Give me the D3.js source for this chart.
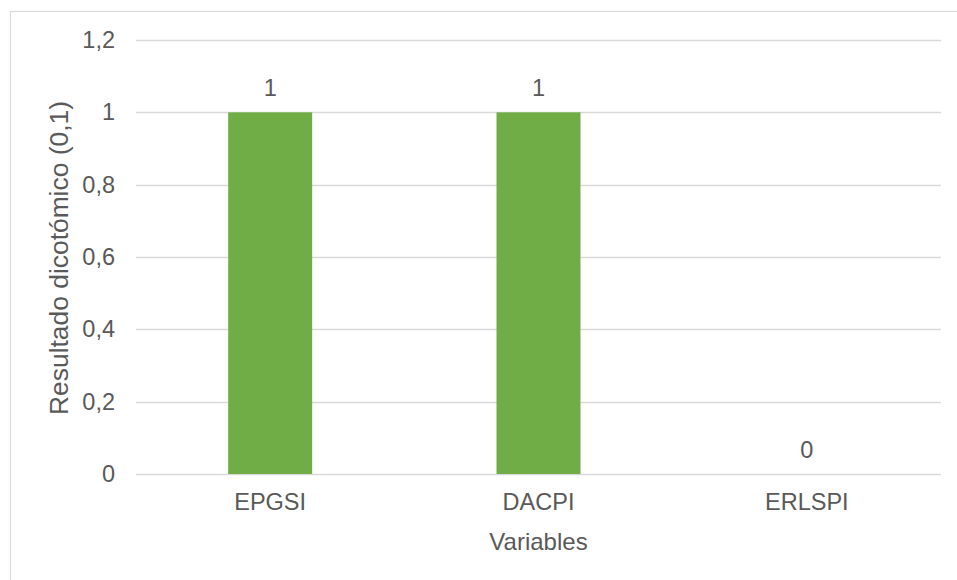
<!DOCTYPE html>
<html>
<head>
<meta charset="utf-8">
<script src="https://cdn.jsdelivr.net/npm/d3@7"></script>
<style>
  html, body { margin: 0; padding: 0; background: #fff; }
  svg { display: block; }
  text { font-family: "Liberation Sans", Arial, sans-serif; fill: #595959; }
</style>
</head>
<body>
<svg id="chart" width="957" height="580"></svg>
<script>
const categories = ["EPGSI", "DACPI", "ERLSPI"];
const values = [1, 1, 0];
const yTicks = [0, 0.2, 0.4, 0.6, 0.8, 1, 1.2];
const yTickLabels = ["0", "0,2", "0,4", "0,6", "0,8", "1", "1,2"];
const xTitle = "Variables";
const yTitle = "Resultado dicotómico (0,1)";

const svg = d3.select("#chart");
const W = 957, H = 580;
const plot = { left: 136, right: 941, top: 40, bottom: 474 };

// chart border
svg.append("rect")
  .attr("x", 10.5).attr("y", 11.5)
  .attr("width", W + 20).attr("height", H + 20)
  .attr("fill", "#fff").attr("stroke", "#d9d9d9").attr("stroke-width", 1.2);

const x = d3.scaleBand().domain(categories)
  .range([plot.left, plot.right]).paddingInner(0.687).paddingOuter(0.3435);
const y = d3.scaleLinear().domain([0, 1.2]).range([plot.bottom, plot.top]);

// gridlines
svg.append("g").selectAll("line").data(yTicks).join("line")
  .attr("x1", plot.left).attr("x2", plot.right)
  .attr("y1", d => Math.round(y(d)) + 0.5).attr("y2", d => Math.round(y(d)) + 0.5)
  .attr("stroke", "#d9d9d9").attr("stroke-width", 1.3);

// y axis labels
const yAxis = d3.axisLeft(y).tickValues(yTicks)
  .tickFormat((d, i) => yTickLabels[i]).tickSize(0).tickPadding(21);
const gy = svg.append("g").attr("transform", `translate(${plot.left},0)`).call(yAxis);
gy.select(".domain").remove();
gy.selectAll("text").style("font-size", "23.5px").attr("fill", "#595959")
  .attr("font-family", "Liberation Sans, Arial, sans-serif");

// bars
svg.append("g").selectAll("rect").data(values).join("rect")
  .attr("x", (d, i) => x(categories[i]))
  .attr("width", x.bandwidth())
  .attr("y", d => y(d))
  .attr("height", d => y(0) - y(d))
  .attr("fill", "#70ad47");

// data labels
svg.append("g").selectAll("text").data(values).join("text")
  .attr("x", (d, i) => x(categories[i]) + x.bandwidth() / 2)
  .attr("y", d => y(d) - 16)
  .attr("text-anchor", "middle")
  .style("font-size", "23.5px")
  .text(d => String(d));

// x axis labels
const xAxis = d3.axisBottom(x).tickSize(0).tickPadding(19);
const gx = svg.append("g").attr("transform", `translate(0,${plot.bottom})`).call(xAxis);
gx.select(".domain").remove();
gx.selectAll("text").style("font-size", "23.5px").attr("fill", "#595959")
  .attr("font-family", "Liberation Sans, Arial, sans-serif");

// axis titles
svg.append("text")
  .attr("x", (plot.left + plot.right) / 2).attr("y", 550)
  .attr("text-anchor", "middle").style("font-size", "24px")
  .text(xTitle);

svg.append("text")
  .attr("transform", `translate(68,${(plot.top + plot.bottom) / 2 + 1}) rotate(-90)`)
  .attr("text-anchor", "middle").style("font-size", "26.4px")
  .text(yTitle);
</script>
</body>
</html>
